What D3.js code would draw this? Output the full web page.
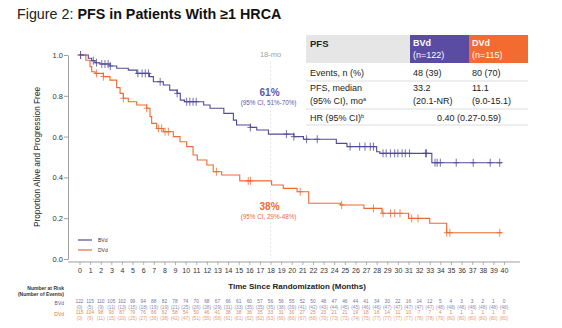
<!DOCTYPE html>
<html>
<head>
<meta charset="utf-8">
<script src="https://cdn.jsdelivr.net/npm/d3@7"></script>
<style>
  body { margin: 0; background: #fff; }
  svg { font-family: "Liberation Sans", Arial, sans-serif; }
</style>
</head>
<body>
<svg id="chart" width="562" height="328"></svg>
<script>
// KM step data: time of each drop (months) and survival after it
var bvdTimes = [0.83, 1.15, 1.46, 1.93, 2.87, 3.5, 4.6, 5.4, 6.6, 6.96, 7.9, 8.5, 9.2, 9.5, 9.9, 11.7, 12.3, 13.6, 14.5, 14.8, 16.1, 16.7, 17.8, 20.2, 21.1, 24.2, 25.2, 28.0, 28.3, 33.2];
var bvdSurv  = [0.984, 0.972, 0.962, 0.956, 0.946, 0.935, 0.926, 0.910, 0.894, 0.869, 0.853, 0.828, 0.812, 0.779, 0.771, 0.755, 0.739, 0.714, 0.681, 0.657, 0.645, 0.632, 0.612, 0.600, 0.587, 0.567, 0.551, 0.526, 0.518, 0.472];
var bvdCensor = [0.1, 1.3, 1.6, 2.1, 2.4, 2.7, 2.9, 5.5, 5.9, 6.2, 6.5, 7.6, 9.2, 10.1, 10.4, 10.7, 11.0, 16.1, 19.5, 20.2, 21.4, 22.4, 25.5, 26.4, 26.9, 27.4, 27.7, 28.6, 28.9, 29.3, 29.7, 30.0, 30.4, 30.7, 31.1, 32.6, 32.7, 33.5, 33.7, 34.0, 35.5, 37.1, 38.7, 39.6];

var dvdTimes = [0.6, 0.99, 1.15, 1.46, 2.25, 2.87, 3.5, 3.82, 4.13, 4.6, 5.39, 6.33, 6.64, 6.8, 7.27, 7.9, 8.84, 9.47, 10.1, 10.7, 11.1, 12.0, 12.6, 13.4, 15.1, 18.1, 19.2, 20.5, 21.6, 24.6, 26.8, 28.5, 31.0, 33.0, 34.6];
var dvdSurv  = [0.974, 0.943, 0.918, 0.910, 0.894, 0.877, 0.840, 0.812, 0.788, 0.771, 0.755, 0.739, 0.698, 0.665, 0.640, 0.624, 0.600, 0.575, 0.551, 0.510, 0.485, 0.461, 0.428, 0.412, 0.383, 0.363, 0.346, 0.330, 0.273, 0.265, 0.248, 0.224, 0.199, 0.175, 0.129];
var dvdCensor = [0.1, 1.6, 2.25, 4.13, 6.33, 7.43, 7.74, 8.06, 8.37, 12.9, 15.9, 16.1, 20.8, 24.7, 27.7, 28.6, 29.3, 29.7, 30.2, 31.3, 31.9, 34.6, 34.9, 39.6];
var lastFollowUp = 39.8;

// number at risk (events) at each month 0..40
var riskMonths = d3.range(0, 41);
var bvdRisk   = [122,115,110,105,102,99,94,88,82,78,74,70,68,67,66,61,60,57,56,56,55,52,50,48,47,46,44,41,34,30,22,16,14,12,5,4,3,3,2,1,0];
var bvdEvents = [0,5,9,11,13,15,18,19,19,21,25,26,28,29,31,33,35,35,35,38,39,41,42,43,44,45,45,46,46,47,47,47,47,47,48,48,48,48,48,48,48];
var dvdRisk   = [115,104,98,93,87,79,76,66,62,58,54,50,46,41,38,38,36,35,33,31,30,27,25,23,21,21,19,18,16,14,11,10,7,7,4,1,1,1,1,1,0];
var dvdEvents = [0,9,11,15,20,25,27,36,38,42,47,51,55,58,61,61,62,62,63,66,66,67,68,70,73,73,74,75,77,77,77,77,78,78,79,80,80,80,80,80,80];

var yTicks = [0, 0.2, 0.4, 0.6, 0.8, 1.0];
var landmark = 18;
var bvdLandmark = {pct: "61%", ci: "(95% CI, 51%-70%)"};
var dvdLandmark = {pct: "38%", ci: "(95% CI, 29%-48%)"};

// summary table rows
var tableHead = ["PFS", ["BVd", "(n=122)"], ["DVd", "(n=115)"]];
var eventsRow = ["Events, n (%)", "48 (39)", "80 (70)"];
var medianRow = [["PFS, median", "(95% CI), mo"], ["33.2", "(20.1-NR)"], ["11.1", "(9.0-15.1)"]];
var hrRow = ["HR (95% CI)", "0.40 (0.27-0.59)"];

var purple = "#4f4b9b";
var orange = "#ef6a32";
var headPurple = "#5a4ba3";
var headOrange = "#f26b30";

var svg = d3.select("#chart");

var x = d3.scaleLinear().domain([0, 40]).range([79.5, 504]);
var y = d3.scaleLinear().domain([0, 1]).range([259, 55]);

// title
var title = svg.append("text").attr("x", 17).attr("y", 19)
  .attr("font-size", 14.3).attr("fill", "#222");
title.append("tspan").text("Figure 2: ");
title.append("tspan").attr("font-weight", "bold").attr("fill", "#111").text("PFS in Patients With ≥1 HRCA");

// 18-month landmark line
svg.append("line")
  .attr("x1", x(landmark)).attr("x2", x(landmark))
  .attr("y1", 62).attr("y2", y(0))
  .attr("stroke", "#e2e2e2").attr("stroke-width", 0.8)
  .attr("stroke-dasharray", "2,2");
svg.append("text").attr("x", x(landmark)).attr("y", 57)
  .attr("text-anchor", "middle").attr("font-size", 7.5).attr("fill", "#a0a0a0")
  .text(landmark + "-mo");

// y axis
var yAxis = svg.append("g").attr("transform", "translate(68,0)")
  .call(d3.axisLeft(y).tickValues(yTicks).tickFormat(d3.format(".1f")).tickSize(4).tickSizeOuter(0));
yAxis.select(".domain").attr("stroke", "#777").attr("stroke-width", 0.7);
yAxis.selectAll(".tick line").attr("stroke", "#777").attr("stroke-width", 0.7);
yAxis.selectAll(".tick text").attr("font-size", 7.5).attr("fill", "#333")
  .attr("font-family", "Liberation Sans, Arial, sans-serif").attr("x", -5);

svg.append("text")
  .attr("transform", "translate(40," + y(0.5) + ") rotate(-90)")
  .attr("text-anchor", "middle").attr("font-size", 8.3).attr("fill", "#222")
  .text("Proportion Alive and Progression Free");

// x axis
var xAxis = svg.append("g").attr("transform", "translate(0,262)")
  .call(d3.axisBottom(x).tickValues(riskMonths).tickSize(3).tickPadding(3));
xAxis.select(".domain").remove();
xAxis.append("line").attr("x1", 68).attr("x2", x(41.5))
  .attr("stroke", "#777").attr("stroke-width", 0.7);
xAxis.selectAll(".tick line").attr("stroke", "#888").attr("stroke-width", 0.6);
xAxis.selectAll(".tick text").attr("font-size", 7).attr("fill", "#333")
  .attr("font-family", "Liberation Sans, Arial, sans-serif");

svg.append("text").attr("x", x(20.5)).attr("y", 289)
  .attr("text-anchor", "middle").attr("font-size", 8).attr("font-weight", "bold").attr("fill", "#222")
  .text("Time Since Randomization (Months)");

// curves
function stepPoints(times, surv) {
  var pts = [{t: 0, s: 1}];
  times.forEach(function(t, i) { pts.push({t: t, s: surv[i]}); });
  pts.push({t: lastFollowUp, s: surv[surv.length - 1]});
  return pts;
}
function survAt(times, surv, t) {
  var s = 1;
  for (var i = 0; i < times.length; i++) {
    if (times[i] <= t) s = surv[i];
  }
  return s;
}

var line = d3.line()
  .x(function(d) { return x(d.t); })
  .y(function(d) { return y(d.s); })
  .curve(d3.curveStepAfter);

var arms = [
  {name: "BVd", times: bvdTimes, surv: bvdSurv, censor: bvdCensor, color: purple},
  {name: "DVd", times: dvdTimes, surv: dvdSurv, censor: dvdCensor, color: orange}
];

// draw DVd first so BVd sits on top at the start
arms.slice().reverse().forEach(function(a) {
  svg.append("path")
    .datum(stepPoints(a.times, a.surv))
    .attr("d", line)
    .attr("fill", "none")
    .attr("stroke", a.color)
    .attr("stroke-width", 1.1);

  svg.append("g").selectAll("path")
    .data(a.censor).enter()
    .append("path")
    .attr("d", function(t) {
      var cx = x(t), cy = y(survAt(a.times, a.surv, t));
      return "M" + (cx - 3) + "," + cy + "h6M" + cx + "," + (cy - 4) + "v8";
    })
    .attr("stroke", a.color)
    .attr("stroke-width", 0.8)
    .attr("fill", "none");
});

// landmark labels
function landmarkLabel(lab, color, ypos) {
  svg.append("text").attr("x", x(landmark) - 1).attr("y", ypos)
    .attr("text-anchor", "middle").attr("font-size", 10).attr("font-weight", "bold")
    .attr("fill", color).text(lab.pct);
  svg.append("text").attr("x", x(landmark) - 2).attr("y", ypos + 9)
    .attr("text-anchor", "middle").attr("font-size", 6.3)
    .attr("fill", color).text(lab.ci);
}
landmarkLabel(bvdLandmark, "#5c58a8", 96);
landmarkLabel(dvdLandmark, "#ee6a36", 210);

// legend
var legend = svg.append("g").selectAll("g")
  .data(arms).enter().append("g")
  .attr("transform", function(d, i) { return "translate(78," + (240 + i * 10) + ")"; });
legend.append("line").attr("x1", 0).attr("x2", 14)
  .attr("stroke", function(d) { return d.color; }).attr("stroke-width", 1.2);
legend.append("text").attr("x", 20).attr("y", 2)
  .attr("font-size", 5).attr("fill", "#333").text(function(d) { return d.name; });

// summary table
var tx0 = 306, tx1 = 410, tx2 = 469, tx3 = 528;
svg.append("rect").attr("x", tx0).attr("y", 35).attr("width", tx1 - tx0).attr("height", 28).attr("fill", "#e6e6e6");
svg.append("rect").attr("x", tx1).attr("y", 35).attr("width", tx2 - tx1).attr("height", 28).attr("fill", headPurple);
svg.append("rect").attr("x", tx2).attr("y", 35).attr("width", tx3 - tx2).attr("height", 28).attr("fill", headOrange);

svg.append("text").attr("x", tx0 + 4).attr("y", 47).attr("font-size", 9.5)
  .attr("font-weight", "bold").attr("fill", "#222").text(tableHead[0]);
[tableHead[1], tableHead[2]].forEach(function(h, i) {
  var hx = (i === 0 ? tx1 : tx2) + 3;
  svg.append("text").attr("x", hx).attr("y", 46).attr("font-size", 9)
    .attr("font-weight", "bold").attr("fill", "#fff").text(h[0]);
  svg.append("text").attr("x", hx).attr("y", 58).attr("font-size", 9)
    .attr("fill", "#fff").text(h[1]);
});

var cellX = [tx0 + 4, tx1 + 3, tx2 + 3];
eventsRow.forEach(function(v, i) {
  svg.append("text").attr("x", cellX[i]).attr("y", 76).attr("font-size", 9).attr("fill", "#222").text(v);
});
medianRow.forEach(function(v, i) {
  svg.append("text").attr("x", cellX[i]).attr("y", 91).attr("font-size", 9).attr("fill", "#222").text(v[0]);
  var t = svg.append("text").attr("x", cellX[i]).attr("y", 104).attr("font-size", 9).attr("fill", "#222");
  t.append("tspan").text(v[1]);
  if (i === 0) t.append("tspan").attr("font-size", 5.5).attr("dy", -3.5).text("a");
});
var hr = svg.append("text").attr("x", cellX[0]).attr("y", 121).attr("font-size", 9).attr("fill", "#222");
hr.append("tspan").text(hrRow[0]);
hr.append("tspan").attr("font-size", 5.5).attr("dy", -3.5).text("b");
svg.append("text").attr("x", tx2).attr("y", 121).attr("text-anchor", "middle")
  .attr("font-size", 9).attr("fill", "#222").text(hrRow[1]);

[81, 109, 125].forEach(function(ly) {
  svg.append("line").attr("x1", tx0).attr("x2", tx3).attr("y1", ly).attr("y2", ly)
    .attr("stroke", "#cfcfcf").attr("stroke-width", 0.7);
});

// number at risk table
svg.append("text").attr("x", 64).attr("y", 290).attr("text-anchor", "end")
  .attr("font-size", 5).attr("font-weight", "bold").attr("fill", "#333").text("Number at Risk");
svg.append("text").attr("x", 64).attr("y", 296).attr("text-anchor", "end")
  .attr("font-size", 5).attr("font-weight", "bold").attr("fill", "#333").text("(Number of Events)");

var riskRows = [
  {name: "BVd", risk: bvdRisk, events: bvdEvents, color: "#5a5890", y: 303},
  {name: "DVd", risk: dvdRisk, events: dvdEvents, color: "#e0703a", y: 314}
];
riskRows.forEach(function(r) {
  svg.append("text").attr("x", 64).attr("y", r.y + 2).attr("text-anchor", "end")
    .attr("font-size", 5).attr("fill", r.color).text(r.name);
  svg.append("g").selectAll("text")
    .data(riskMonths).enter().append("text")
    .attr("x", function(m) { return x(m); }).attr("y", r.y)
    .attr("text-anchor", "middle").attr("font-size", 4.8).attr("fill", r.color)
    .attr("opacity", 0.85)
    .text(function(m) { return r.risk[m]; });
  svg.append("g").selectAll("text")
    .data(riskMonths).enter().append("text")
    .attr("x", function(m) { return x(m); }).attr("y", r.y + 6)
    .attr("text-anchor", "middle").attr("font-size", 4.8).attr("fill", r.color)
    .attr("opacity", 0.7)
    .text(function(m) { return "(" + r.events[m] + ")"; });
});
</script>
</body>
</html>
